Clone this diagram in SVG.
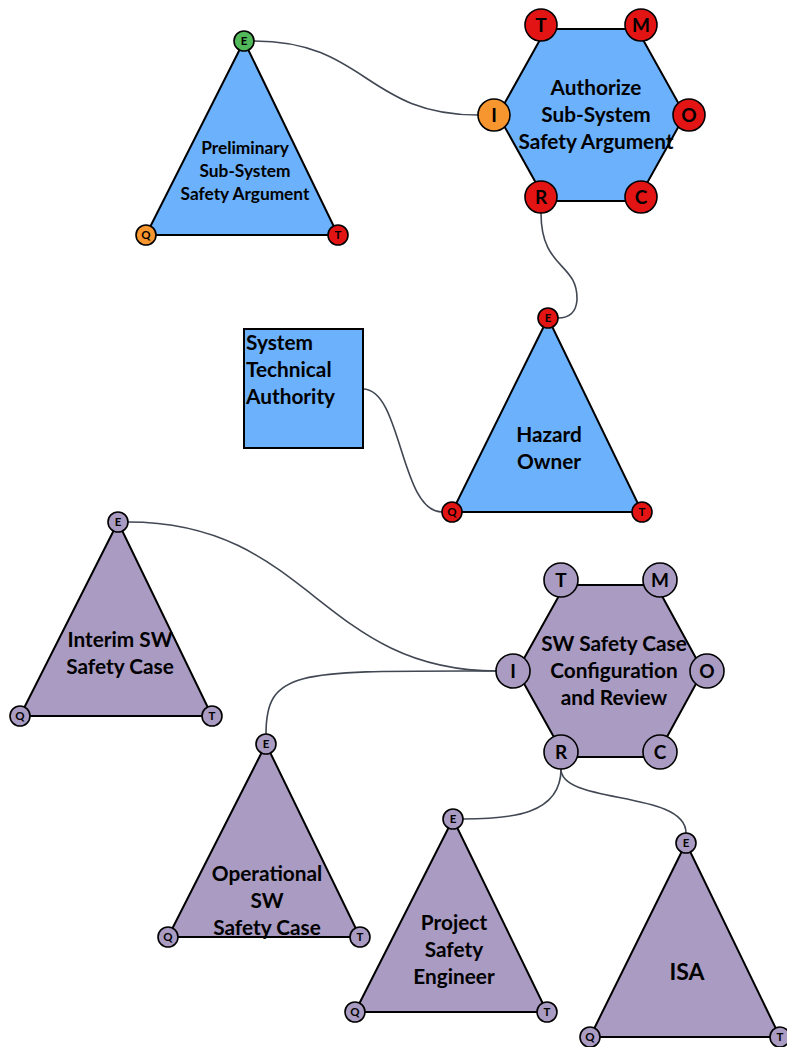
<svg xmlns="http://www.w3.org/2000/svg" width="787" height="1047" viewBox="0 0 787 1047">
<style>
.blue{fill:#6cb1fc;stroke:#000;stroke-width:2}
.purple{fill:#a99bc1;stroke:#000;stroke-width:2}
.red{fill:#e31414;stroke:#000;stroke-width:1.6}
.org{fill:#f7962f;stroke:#000;stroke-width:1.6}
.grn{fill:#52b95a;stroke:#000;stroke-width:1.6}
.pp{fill:#a99bc1;stroke:#000;stroke-width:1.6}
.lbl{font-family:Lato,"Liberation Sans",sans-serif;font-weight:bold;fill:#000;text-anchor:middle}
.big{font-size:20.8px}
.mid{font-size:17.3px}
.sm{font-size:11.5px}
.pl{font-size:19px}
.conn{fill:none;stroke:#414853;stroke-width:1.6}
</style>
<rect width="787" height="1047" fill="#fff"/>
<g id="connectors">
<path class="conn" d="M254,41 C366,41 366,115 478,115"/>
<path class="conn" d="M541,213 C541,270 578,262 577,300 C576,313 568,318 558,318"/>
<path class="conn" d="M363,389 C402,389 400,512 442,512"/>
<path class="conn" d="M128,522 C310,522 320,671 497,671"/>
<path class="conn" d="M497,671 C300,671 266,668 266,734"/>
<path class="conn" d="M561,769 C561,815 510,819 463,819"/>
<path class="conn" d="M561,769 C561,805 686,790 686,833"/>
</g>
<g id="prelim">
<polygon class="blue" points="244,41 146,235 338,235"/>
<text class="lbl mid" x="245" y="154">Preliminary</text>
<text class="lbl mid" x="245" y="177">Sub-System</text>
<text class="lbl mid" x="245" y="200">Safety Argument</text>
<circle class="grn" cx="244" cy="41" r="10"/><text class="lbl sm" x="244" y="45">E</text>
<circle class="org" cx="146" cy="235" r="10"/><text class="lbl sm" x="146" y="239">Q</text>
<circle class="red" cx="338" cy="235" r="10"/><text class="lbl sm" x="338" y="239">T</text>
</g>
<g id="authorize">
<polygon class="blue" points="546,29 637,29 685,115 637,201 546,201 498,115"/>
<text class="lbl big" x="596" y="95">Authorize</text>
<text class="lbl big" x="596" y="122">Sub-System</text>
<text class="lbl big" x="596" y="149">Safety Argument</text>
<circle class="red" cx="541" cy="25" r="16"/><text class="lbl pl" x="541" y="31.5">T</text>
<circle class="red" cx="641" cy="25" r="16"/><text class="lbl pl" x="641" y="31.5">M</text>
<circle class="org" cx="494" cy="115" r="16"/><text class="lbl pl" x="494" y="121.5">I</text>
<circle class="red" cx="689" cy="115" r="16"/><text class="lbl pl" x="689" y="121.5">O</text>
<circle class="red" cx="541" cy="197" r="16"/><text class="lbl pl" x="541" y="203.5">R</text>
<circle class="red" cx="641" cy="197" r="16"/><text class="lbl pl" x="641" y="203.5">C</text>
</g>
<g id="sta">
<rect class="blue" x="244" y="329" width="119" height="119"/>
<text class="lbl big" x="246" y="350" style="text-anchor:start">System</text>
<text class="lbl big" x="246" y="377" style="text-anchor:start">Technical</text>
<text class="lbl big" x="246" y="404" style="text-anchor:start">Authority</text>
</g>
<g id="hazard">
<polygon class="blue" points="548,318 452,512 642,512"/>
<text class="lbl big" x="549" y="442">Hazard</text>
<text class="lbl big" x="549" y="469">Owner</text>
<circle class="red" cx="548" cy="318" r="10"/><text class="lbl sm" x="548" y="322">E</text>
<circle class="red" cx="452" cy="512" r="10"/><text class="lbl sm" x="452" y="516">Q</text>
<circle class="red" cx="642" cy="512" r="10"/><text class="lbl sm" x="642" y="516">T</text>
</g>
<g id="interim">
<polygon class="purple" points="118,522 20,716 212,716"/>
<text class="lbl big" x="120" y="647">Interim SW</text>
<text class="lbl big" x="120" y="674">Safety Case</text>
<circle class="pp" cx="118" cy="522" r="10"/><text class="lbl sm" x="118" y="526">E</text>
<circle class="pp" cx="20" cy="716" r="10"/><text class="lbl sm" x="20" y="720">Q</text>
<circle class="pp" cx="212" cy="716" r="10"/><text class="lbl sm" x="212" y="720">T</text>
</g>
<g id="swcase">
<polygon class="purple" points="565,585 656,585 703,671 656,757 565,757 517,671"/>
<text class="lbl big" x="614" y="651">SW Safety Case</text>
<text class="lbl big" x="614" y="678">Configuration</text>
<text class="lbl big" x="614" y="705">and Review</text>
<circle class="pp" cx="561" cy="580" r="17"/><text class="lbl pl" x="561" y="586.5">T</text>
<circle class="pp" cx="660" cy="580" r="17"/><text class="lbl pl" x="660" y="586.5">M</text>
<circle class="pp" cx="513" cy="671" r="17"/><text class="lbl pl" x="513" y="677.5">I</text>
<circle class="pp" cx="707" cy="671" r="17"/><text class="lbl pl" x="707" y="677.5">O</text>
<circle class="pp" cx="561" cy="752" r="17"/><text class="lbl pl" x="561" y="758.5">R</text>
<circle class="pp" cx="660" cy="752" r="17"/><text class="lbl pl" x="660" y="758.5">C</text>
</g>
<g id="operational">
<polygon class="purple" points="266,744 168,937 360,937"/>
<text class="lbl big" x="267" y="881">Operational</text>
<text class="lbl big" x="267" y="908">SW</text>
<text class="lbl big" x="267" y="935">Safety Case</text>
<circle class="pp" cx="266" cy="744" r="10"/><text class="lbl sm" x="266" y="748">E</text>
<circle class="pp" cx="168" cy="937" r="10"/><text class="lbl sm" x="168" y="941">Q</text>
<circle class="pp" cx="360" cy="937" r="10"/><text class="lbl sm" x="360" y="941">T</text>
</g>
<g id="pse">
<polygon class="purple" points="453,819 355,1012 547,1012"/>
<text class="lbl big" x="454" y="930">Project</text>
<text class="lbl big" x="454" y="957">Safety</text>
<text class="lbl big" x="454" y="984">Engineer</text>
<circle class="pp" cx="453" cy="819" r="10"/><text class="lbl sm" x="453" y="823">E</text>
<circle class="pp" cx="355" cy="1012" r="10"/><text class="lbl sm" x="355" y="1016">Q</text>
<circle class="pp" cx="547" cy="1012" r="10"/><text class="lbl sm" x="547" y="1016">T</text>
</g>
<g id="isa">
<polygon class="purple" points="686,843 590,1037 780,1037"/>
<text class="lbl" x="687" y="980" style="font-size:23px">ISA</text>
<circle class="pp" cx="686" cy="843" r="10"/><text class="lbl sm" x="686" y="847">E</text>
<circle class="pp" cx="590" cy="1037" r="10"/><text class="lbl sm" x="590" y="1041">Q</text>
<circle class="pp" cx="780" cy="1037" r="10"/><text class="lbl sm" x="780" y="1041">T</text>
</g>
</svg>
